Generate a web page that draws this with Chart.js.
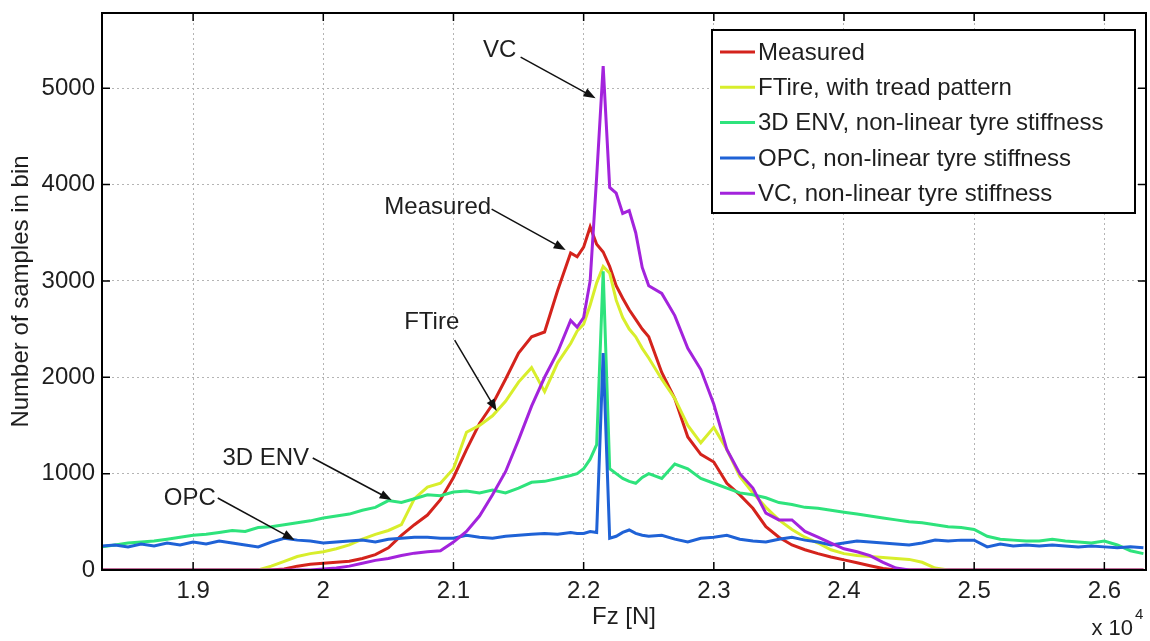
<!DOCTYPE html>
<html>
<head>
<meta charset="utf-8">
<script src="https://cdn.jsdelivr.net/npm/chart.js@4.4.0/dist/chart.umd.min.js"></script>
<style>
  html, body { margin: 0; padding: 0; background: #fff; }
</style>
</head>
<body>
<canvas id="myChart" width="1150" height="641"></canvas>
<script>
// bin centres, Fz [N]
var fz = [
  18300, 18400, 18500, 18600, 18700, 18800, 18900, 19000, 19100, 19200,
  19300, 19400, 19500, 19600, 19700, 19800, 19900, 20000, 20100, 20200,
  20300, 20400, 20500, 20600, 20700, 20800, 20900, 21000, 21100, 21200,
  21300, 21400, 21500, 21600, 21700, 21800, 21900,
  21950, 22000, 22050, 22100, 22150, 22200, 22250, 22300, 22350, 22400, 22450, 22500,
  22600, 22700, 22800, 22900, 23000, 23100, 23200, 23300, 23400, 23500,
  23600, 23700, 23800, 23900, 24000, 24100, 24200, 24300, 24400, 24500,
  24600, 24700, 24800, 24900, 25000, 25100, 25200, 25300, 25400, 25500,
  25600, 25700, 25800, 25900, 26000, 26100, 26200, 26300
];

var measured = [
  0, 0, 0, 0, 0, 0, 0, 0, 0, 0,
  0, 0, 0, 0, 10, 40, 60, 70, 80, 90,
  120, 160, 230, 360, 470, 570, 730, 960, 1250, 1520,
  1720, 1980, 2250, 2420, 2470, 2900, 3290,
  3250, 3350, 3560, 3380, 3300, 3150, 2950, 2820, 2700, 2600, 2500, 2420,
  2050, 1780, 1380, 1200, 1120, 900, 780, 640, 450, 340,
  260, 210, 170, 135, 105, 75, 45, 15, 0, 0,
  0, 0, 0, 0, 0, 0, 0, 0, 0, 0,
  0, 0, 0, 0, 0, 0, 0, 0
];

var ftire = [
  0, 0, 0, 0, 0, 0, 0, 0, 0, 0,
  0, 0, 0, 40, 90, 140, 170, 190, 220, 260,
  320, 370, 410, 470, 740, 860, 900, 1050, 1430, 1500,
  1600, 1750, 1950, 2100, 1850, 2150, 2350,
  2480, 2550, 2750, 2980, 3150, 3080, 2800, 2620, 2500, 2420, 2300, 2200,
  1980, 1780, 1500, 1320, 1480, 1250, 970, 800, 650, 520,
  420, 340, 280, 210, 170, 150, 140, 130, 120, 110,
  80, 20, 0, 0, 0, 0, 0, 0, 0, 0,
  0, 0, 0, 0, 0, 0, 0, 0
];

var env3d = [
  240, 260, 280, 290, 300, 320, 340, 360, 370, 390,
  410, 400, 440, 450, 470, 490, 510, 540, 560, 580,
  620, 650, 720, 700, 740, 780, 770, 810, 820, 800,
  830, 800, 850, 910, 920, 950, 980,
  1000, 1050, 1150, 1300, 3100, 1050, 1000, 950, 920, 900, 960, 1000,
  950, 1100, 1050, 950, 900, 850, 800, 780, 750, 700,
  680, 650, 640, 620, 600, 580, 560, 540, 520, 500,
  490, 470, 450, 440, 420, 350, 320, 310, 300, 300,
  320, 300, 290, 280, 300, 260, 200, 170
];

var opc = [
  250, 260, 240, 270, 250, 280, 260, 290, 270, 300,
  280, 260, 240, 290, 330, 310, 300, 280, 290, 300,
  310, 290, 320, 330, 340, 340, 330, 330, 360, 340,
  330, 350, 360, 370, 380, 370, 390,
  380, 380, 400, 390, 2250, 330, 350, 390, 415, 380, 360, 350,
  360, 320, 290, 330, 340, 360, 320, 300, 290, 320,
  340, 310, 290, 260, 280, 300, 290, 280, 270, 260,
  280, 310, 300, 310, 310, 240, 270, 250, 260, 250,
  260, 250, 240, 250, 240, 230, 240, 230
];

var vc = [
  0, 0, 0, 0, 0, 0, 0, 0, 0, 0,
  0, 0, 0, 0, 0, 0, 0, 10, 20, 40,
  70, 100, 120, 150, 175, 190, 200, 290, 400, 560,
  780, 1020, 1350, 1700, 2000, 2260, 2590,
  2520, 2620, 3000, 4080, 5230, 3970, 3910, 3700, 3730, 3500, 3140, 2950,
  2870, 2640, 2300, 2080, 1720, 1250, 1000, 850, 590, 520,
  520, 400, 340, 280, 220, 190, 150, 80, 20, 0,
  0, 0, 0, 0, 0, 0, 0, 0, 0, 0,
  0, 0, 0, 0, 0, 0, 0, 0
];

var seriesNames = [
  "Measured",
  "FTire, with tread pattern",
  "3D ENV, non-linear tyre stiffness",
  "OPC, non-linear tyre stiffness",
  "VC, non-linear tyre stiffness"
];
var seriesValues = [measured, ftire, env3d, opc, vc];
var seriesColors = ["#d4231c", "#d8ee2c", "#2ee37c", "#1f62d6", "#a323dc"];

var xTicks = [19000, 20000, 21000, 22000, 23000, 24000, 25000, 26000];
var yTicks = [0, 1000, 2000, 3000, 4000, 5000];

// text arrows: label, text centre, arrow tail, arrow head (data units)
var notes = [
  { text: "VC", at: [21355, 5394], from: [21516, 5322], to: [22092, 4896] },
  { text: "Measured", at: [20879, 3765], from: [21293, 3745], to: [21862, 3320] },
  { text: "FTire", at: [20833, 2573], from: [21009, 2386], to: [21332, 1649] },
  { text: "3D ENV", at: [19558, 1162], from: [19919, 1162], to: [20525, 726] },
  { text: "OPC", at: [18974, 747], from: [19189, 747], to: [19780, 311] }
];

var FONT = "'Liberation Sans', Arial, sans-serif";
var TXT = "#1e1e1e";

function toPoints(vals) {
  return fz.map(function (x, i) { return { x: x, y: vals[i] }; });
}

var datasets = seriesNames.map(function (name, i) {
  return {
    label: name,
    data: toPoints(seriesValues[i]),
    borderColor: seriesColors[i],
    backgroundColor: seriesColors[i],
    borderWidth: 3,
    pointRadius: 0,
    tension: 0,
    fill: false,
    order: seriesNames.length - 1 - i  // last series drawn on top
  };
});

var extras = {
  id: "extras",
  afterDraw: function (chart) {
    var ctx = chart.ctx;
    var a = chart.chartArea;
    var xs = chart.scales.x, ys = chart.scales.y;

    // annotations
    ctx.save();
    ctx.font = "24px " + FONT;
    ctx.textAlign = "center";
    ctx.textBaseline = "middle";
    notes.forEach(function (n) {
      ctx.fillStyle = TXT;
      ctx.fillText(n.text, xs.getPixelForValue(n.at[0]), ys.getPixelForValue(n.at[1]));
      var x1 = xs.getPixelForValue(n.from[0]), y1 = ys.getPixelForValue(n.from[1]);
      var x2 = xs.getPixelForValue(n.to[0]), y2 = ys.getPixelForValue(n.to[1]);
      var ang = Math.atan2(y2 - y1, x2 - x1);
      var c = Math.cos(ang), s = Math.sin(ang);
      ctx.strokeStyle = "#111";
      ctx.lineWidth = 1.5;
      ctx.beginPath();
      ctx.moveTo(x1, y1);
      ctx.lineTo(x2 - 8 * c, y2 - 8 * s);
      ctx.stroke();
      ctx.fillStyle = "#111";
      ctx.beginPath();
      ctx.moveTo(x2, y2);
      ctx.lineTo(x2 - 12 * c + 4.5 * s, y2 - 12 * s - 4.5 * c);
      ctx.lineTo(x2 - 12 * c - 4.5 * s, y2 - 12 * s + 4.5 * c);
      ctx.closePath();
      ctx.fill();
    });
    ctx.restore();

    // legend box
    ctx.save();
    var lx = 712, ly = 30, lw = 423, lh = 183;
    ctx.fillStyle = "#fff";
    ctx.fillRect(lx, ly, lw, lh);
    ctx.strokeStyle = "#000";
    ctx.lineWidth = 2;
    ctx.strokeRect(lx, ly, lw, lh);
    ctx.font = "24px " + FONT;
    ctx.textAlign = "left";
    ctx.textBaseline = "middle";
    chart.data.datasets.forEach(function (ds, i) {
      var yy = ly + 22 + i * 35.3;
      ctx.strokeStyle = ds.borderColor;
      ctx.lineWidth = 3;
      ctx.beginPath();
      ctx.moveTo(lx + 8, yy);
      ctx.lineTo(lx + 43, yy);
      ctx.stroke();
      ctx.fillStyle = TXT;
      ctx.fillText(ds.label, lx + 46, yy + 1);
    });
    ctx.restore();

    // axes box and inward tick marks
    ctx.save();
    ctx.strokeStyle = "#000";
    ctx.lineWidth = 2;
    ctx.strokeRect(a.left, a.top, a.right - a.left, a.bottom - a.top);
    ctx.lineWidth = 1.5;
    ctx.beginPath();
    xTicks.forEach(function (v) {
      var px = xs.getPixelForValue(v);
      ctx.moveTo(px, a.bottom); ctx.lineTo(px, a.bottom - 8);
      ctx.moveTo(px, a.top); ctx.lineTo(px, a.top + 8);
    });
    yTicks.forEach(function (v) {
      var py = ys.getPixelForValue(v);
      ctx.moveTo(a.left, py); ctx.lineTo(a.left + 8, py);
      ctx.moveTo(a.right, py); ctx.lineTo(a.right - 8, py);
    });
    ctx.stroke();

    // exponent
    ctx.fillStyle = TXT;
    ctx.font = "22px " + FONT;
    ctx.textAlign = "right";
    ctx.textBaseline = "middle";
    ctx.fillText("x 10", 1133, 629);
    ctx.font = "15px " + FONT;
    ctx.textAlign = "left";
    ctx.fillText("4", 1135, 615);
    ctx.restore();
  }
};

new Chart("myChart", {
  type: "line",
  data: { datasets: datasets },
  options: {
    responsive: false,
    animation: false,
    devicePixelRatio: 1,
    layout: { padding: { top: 13, right: 4, left: 0, bottom: 0 } },
    plugins: {
      legend: { display: false },
      tooltip: { enabled: false }
    },
    scales: {
      x: {
        type: "linear",
        min: 18300,
        max: 26320,
        afterBuildTicks: function (s) {
          s.ticks = xTicks.map(function (v) { return { value: v }; });
        },
        afterFit: function (s) {
          s.height = 71;
          s.paddingLeft = 0; s.paddingRight = 0;
        },
        ticks: {
          callback: function (v) { return String(Math.round(v / 1000) / 10); },
          font: { size: 24, family: FONT },
          color: TXT,
          padding: 7,
          maxRotation: 0,
          autoSkip: false
        },
        grid: { color: "#b4b4b4", lineWidth: 1, drawTicks: false },
        border: { display: false, dash: [2, 3] },
        title: {
          display: true,
          text: "Fz [N]",
          font: { size: 24, family: FONT },
          color: TXT,
          padding: { top: 0, bottom: 9 }
        }
      },
      y: {
        min: 0,
        max: 5780,
        afterBuildTicks: function (s) {
          s.ticks = yTicks.map(function (v) { return { value: v }; });
        },
        afterFit: function (s) {
          s.width = 102;
          s.paddingTop = 0; s.paddingBottom = 0;
        },
        ticks: {
          callback: function (v) { return String(v); },
          font: { size: 24, family: FONT },
          color: TXT,
          padding: 7
        },
        grid: { color: "#b4b4b4", lineWidth: 1, drawTicks: false },
        border: { display: false, dash: [2, 3] },
        title: {
          display: true,
          text: "Number of samples in bin",
          font: { size: 24, family: FONT },
          color: TXT,
          padding: { top: 7, bottom: 0 }
        }
      }
    }
  },
  plugins: [extras]
});
</script>
</body>
</html>
